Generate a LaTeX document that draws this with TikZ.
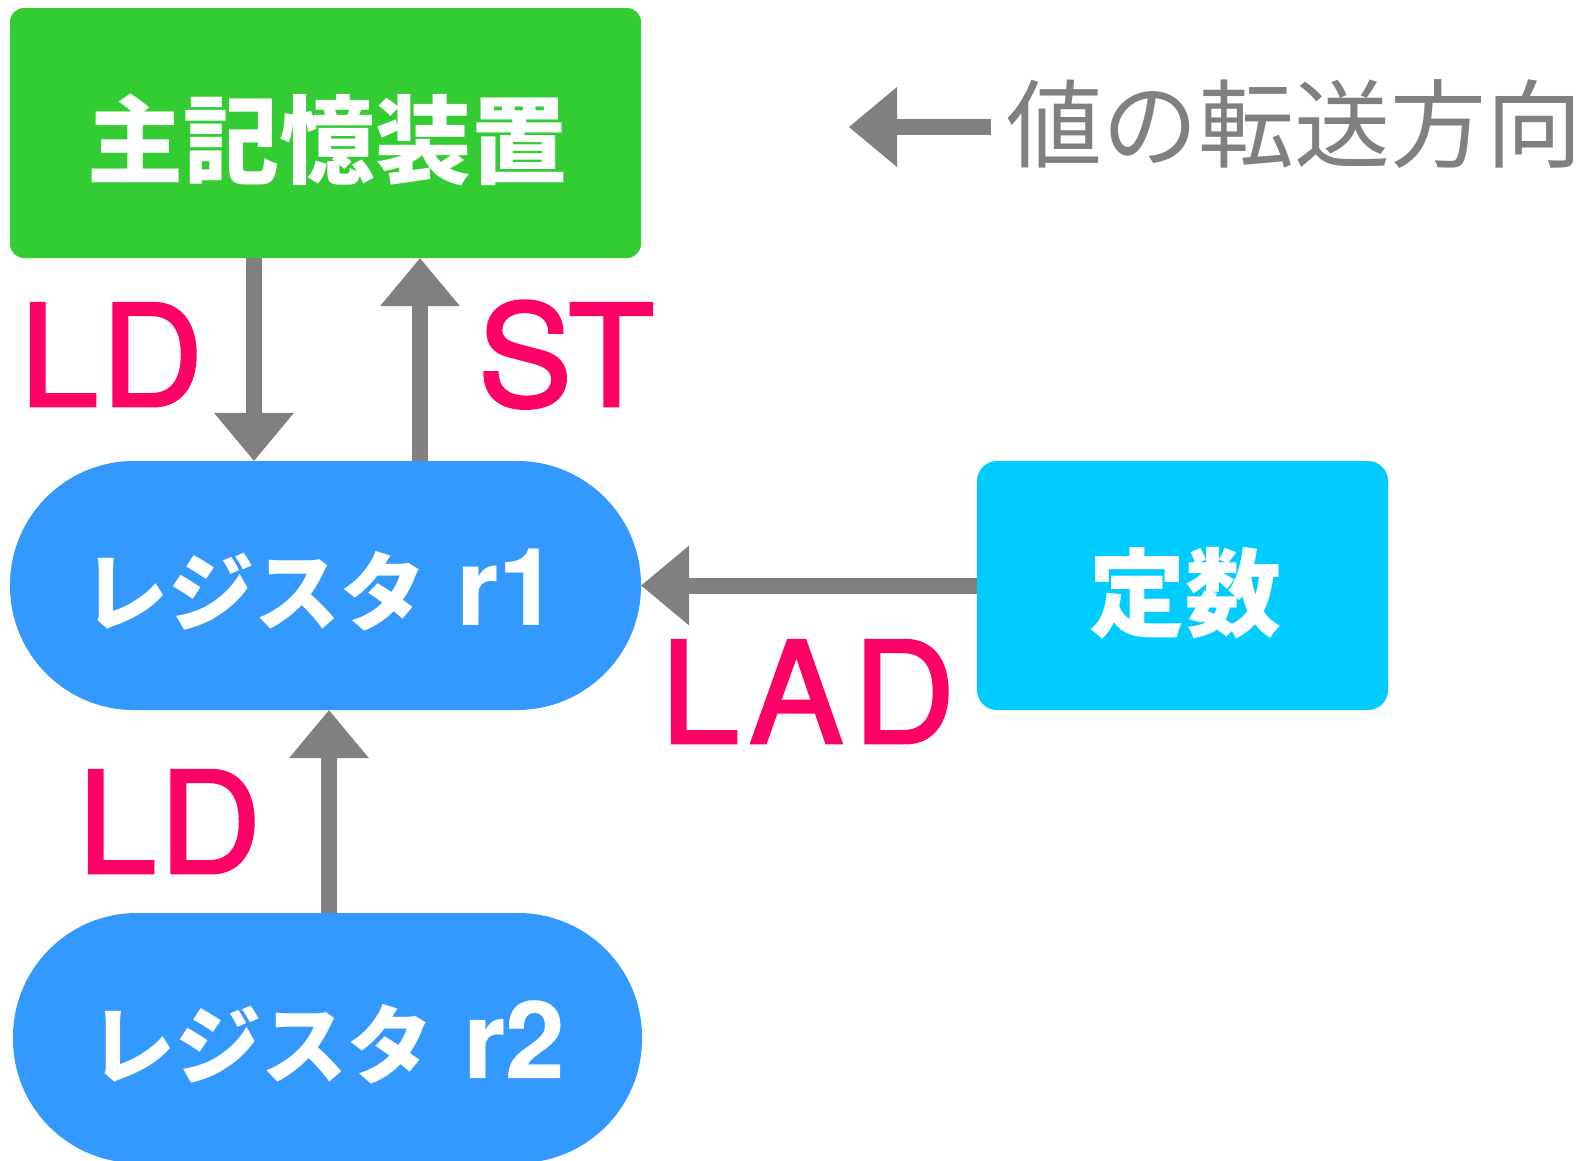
\documentclass[tikz,border=0pt]{standalone}
\usepackage{fontspec}
\usetikzlibrary{arrows.meta}
\newfontfamily\jpfont{Noto Sans CJK JP}
\newfontfamily\latfont{TeX Gyre Heros}[FakeBold=2]
\newfontfamily\rnfont{TeX Gyre Heros}[FakeBold=0.4]
\definecolor{memgreen}{HTML}{33CC33}
\definecolor{regblue}{HTML}{3399FF}
\definecolor{constcyan}{HTML}{00CCFF}
\definecolor{labred}{HTML}{FF0066}
\definecolor{arrgray}{HTML}{808080}
\tikzset{
  shapebox/.style={inner sep=0pt, draw=none},
  bigtext/.style={inner sep=0pt, text=white, font=\jpfont\bfseries\fontsize{96}{96}\selectfont},
  regtext/.style={inner sep=0pt, text=white, font=\jpfont\bfseries\fontsize{86}{86}\selectfont},
  arr/.style={draw=arrgray, line width=16pt, -{Triangle[length=48pt,width=80pt,line width=0pt]}},
  lab/.style={text=labred, font=\latfont\fontsize{141}{141}\selectfont, inner sep=0pt, anchor=base},
}
\newcommand{\regname}[1]{レジスタ\hspace{30pt}{\rnfont\fontsize{107}{107}\selectfont #1}}
\begin{document}
\begin{tikzpicture}[x=1pt,y=-1pt]
\useasboundingbox (0,0) rectangle (1579,1160);
% boxes
\node[shapebox, fill=memgreen, minimum width=631pt, minimum height=250pt, rounded corners=14pt] (mem) at (325.5,133) {};
\node[shapebox, fill=regblue, minimum width=631pt, minimum height=249pt, rounded corners=124pt] (r1) at (325.5,585.5) {};
\node[shapebox, fill=constcyan, minimum width=411pt, minimum height=249pt, rounded corners=20pt] (const) at (1182.5,585.5) {};
\node[shapebox, fill=regblue, minimum width=629pt, minimum height=250pt, rounded corners=124pt] (r2) at (327.5,1038) {};
% texts
\node[bigtext] (memtxt) at (327.5,140) {主記憶装置};
\node[regtext] (r1txt) at (320,590) {\regname{r1}};
\node[bigtext] (consttxt) at (1185,593) {定数};
\node[regtext] (r2txt) at (327,1042.5) {\regname{r2}};
% legend
\node[inner sep=0pt, text=arrgray, font=\jpfont\fontsize{96}{96}\selectfont] (legtxt) at (1294,124) {値の転送方向};
\coordinate (legtip) at (849,127);
\draw[arr] ([shift={(-15,3)}]legtxt.west) -- (legtip);
% connectors
\draw[arr] ([xshift=-71.5pt]mem.south) -- ([xshift=-71.5pt]r1.north);
\draw[arr] ([xshift=94.5pt]r1.north) -- ([xshift=94.5pt]mem.south);
\draw[arr] (const.west) -- (r1.east);
\draw[arr] ([xshift=1.5pt]r2.north) -- ([xshift=3.5pt]r1.south);
% labels
\node[lab] (ldtop) at (111.5,406) {L\kern3pt D};
\node[lab] (st) at (566,406) {ST};
\node[lab] (lad) at (808,743) {L\kern10pt A\kern10pt D};
\node[lab] (ldbot) at (169.5,873) {L\kern3pt D};
\end{tikzpicture}
\end{document}
